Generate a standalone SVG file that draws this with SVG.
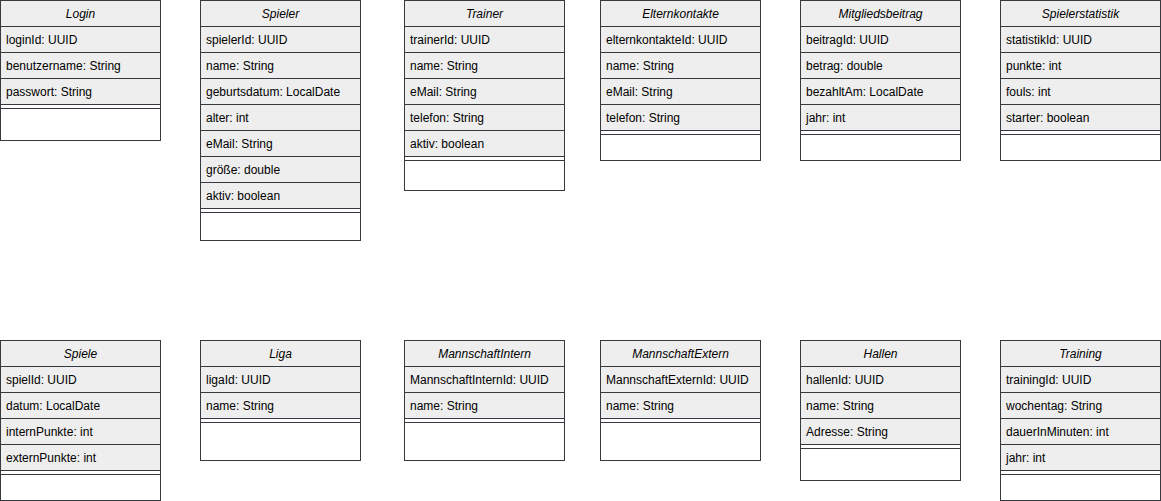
<svg xmlns="http://www.w3.org/2000/svg" width="1161" height="501" viewBox="0 0 1161 501">
<style>
.bg{fill:#ffffff;stroke:none}
.box{fill:none;stroke:#36393d;stroke-width:1}
.hd{fill:#eeeeee;stroke:#36393d;stroke-width:1}
.ln{stroke:#36393d;stroke-width:1;fill:none}
.t{font-family:"Liberation Sans",Arial,sans-serif;font-size:12px;fill:#000000}
.h{font-family:"Liberation Sans",Arial,sans-serif;font-size:12px;font-style:italic;fill:#000000;text-anchor:middle}
</style>
<rect width="1161" height="501" fill="#ffffff"/>

<g id="Login">
<rect class="bg" x="0.5" y="0.5" width="160" height="140"/>
<rect class="hd" x="0.5" y="0.5" width="160" height="104"/>
<line class="ln" x1="0.5" y1="26.5" x2="160.5" y2="26.5"/>
<line class="ln" x1="0.5" y1="52.5" x2="160.5" y2="52.5"/>
<line class="ln" x1="0.5" y1="78.5" x2="160.5" y2="78.5"/>
<line class="ln" x1="0.5" y1="108.5" x2="160.5" y2="108.5"/>
<rect class="box" x="0.5" y="0.5" width="160" height="140"/>
<text class="h" x="80.5" y="18">Login</text>
<text class="t" x="6" y="44">loginId: UUID</text>
<text class="t" x="6" y="70">benutzername: String</text>
<text class="t" x="6" y="96">passwort: String</text>
</g>

<g id="Spieler">
<rect class="bg" x="200.5" y="0.5" width="160" height="240"/>
<rect class="hd" x="200.5" y="0.5" width="160" height="208"/>
<line class="ln" x1="200.5" y1="26.5" x2="360.5" y2="26.5"/>
<line class="ln" x1="200.5" y1="52.5" x2="360.5" y2="52.5"/>
<line class="ln" x1="200.5" y1="78.5" x2="360.5" y2="78.5"/>
<line class="ln" x1="200.5" y1="104.5" x2="360.5" y2="104.5"/>
<line class="ln" x1="200.5" y1="130.5" x2="360.5" y2="130.5"/>
<line class="ln" x1="200.5" y1="156.5" x2="360.5" y2="156.5"/>
<line class="ln" x1="200.5" y1="182.5" x2="360.5" y2="182.5"/>
<line class="ln" x1="200.5" y1="212.5" x2="360.5" y2="212.5"/>
<rect class="box" x="200.5" y="0.5" width="160" height="240"/>
<text class="h" x="280.5" y="18">Spieler</text>
<text class="t" x="206" y="44">spielerId: UUID</text>
<text class="t" x="206" y="70">name: String</text>
<text class="t" x="206" y="96">geburtsdatum: LocalDate</text>
<text class="t" x="206" y="122">alter: int</text>
<text class="t" x="206" y="148">eMail: String</text>
<text class="t" x="206" y="174">größe: double</text>
<text class="t" x="206" y="200">aktiv: boolean</text>
</g>

<g id="Trainer">
<rect class="bg" x="404.5" y="0.5" width="160" height="190"/>
<rect class="hd" x="404.5" y="0.5" width="160" height="156"/>
<line class="ln" x1="404.5" y1="26.5" x2="564.5" y2="26.5"/>
<line class="ln" x1="404.5" y1="52.5" x2="564.5" y2="52.5"/>
<line class="ln" x1="404.5" y1="78.5" x2="564.5" y2="78.5"/>
<line class="ln" x1="404.5" y1="104.5" x2="564.5" y2="104.5"/>
<line class="ln" x1="404.5" y1="130.5" x2="564.5" y2="130.5"/>
<line class="ln" x1="404.5" y1="160.5" x2="564.5" y2="160.5"/>
<rect class="box" x="404.5" y="0.5" width="160" height="190"/>
<text class="h" x="484.5" y="18">Trainer</text>
<text class="t" x="410" y="44">trainerId: UUID</text>
<text class="t" x="410" y="70">name: String</text>
<text class="t" x="410" y="96">eMail: String</text>
<text class="t" x="410" y="122">telefon: String</text>
<text class="t" x="410" y="148">aktiv: boolean</text>
</g>

<g id="Elternkontakte">
<rect class="bg" x="600.5" y="0.5" width="160" height="160"/>
<rect class="hd" x="600.5" y="0.5" width="160" height="130"/>
<line class="ln" x1="600.5" y1="26.5" x2="760.5" y2="26.5"/>
<line class="ln" x1="600.5" y1="52.5" x2="760.5" y2="52.5"/>
<line class="ln" x1="600.5" y1="78.5" x2="760.5" y2="78.5"/>
<line class="ln" x1="600.5" y1="104.5" x2="760.5" y2="104.5"/>
<line class="ln" x1="600.5" y1="134.5" x2="760.5" y2="134.5"/>
<rect class="box" x="600.5" y="0.5" width="160" height="160"/>
<text class="h" x="680.5" y="18">Elternkontakte</text>
<text class="t" x="606" y="44">elternkontakteId: UUID</text>
<text class="t" x="606" y="70">name: String</text>
<text class="t" x="606" y="96">eMail: String</text>
<text class="t" x="606" y="122">telefon: String</text>
</g>

<g id="Mitgliedsbeitrag">
<rect class="bg" x="800.5" y="0.5" width="160" height="160"/>
<rect class="hd" x="800.5" y="0.5" width="160" height="130"/>
<line class="ln" x1="800.5" y1="26.5" x2="960.5" y2="26.5"/>
<line class="ln" x1="800.5" y1="52.5" x2="960.5" y2="52.5"/>
<line class="ln" x1="800.5" y1="78.5" x2="960.5" y2="78.5"/>
<line class="ln" x1="800.5" y1="104.5" x2="960.5" y2="104.5"/>
<line class="ln" x1="800.5" y1="134.5" x2="960.5" y2="134.5"/>
<rect class="box" x="800.5" y="0.5" width="160" height="160"/>
<text class="h" x="880.5" y="18">Mitgliedsbeitrag</text>
<text class="t" x="806" y="44">beitragId: UUID</text>
<text class="t" x="806" y="70">betrag: double</text>
<text class="t" x="806" y="96">bezahltAm: LocalDate</text>
<text class="t" x="806" y="122">jahr: int</text>
</g>

<g id="Spielerstatistik">
<rect class="bg" x="1000.5" y="0.5" width="160" height="160"/>
<rect class="hd" x="1000.5" y="0.5" width="160" height="130"/>
<line class="ln" x1="1000.5" y1="26.5" x2="1160.5" y2="26.5"/>
<line class="ln" x1="1000.5" y1="52.5" x2="1160.5" y2="52.5"/>
<line class="ln" x1="1000.5" y1="78.5" x2="1160.5" y2="78.5"/>
<line class="ln" x1="1000.5" y1="104.5" x2="1160.5" y2="104.5"/>
<line class="ln" x1="1000.5" y1="134.5" x2="1160.5" y2="134.5"/>
<rect class="box" x="1000.5" y="0.5" width="160" height="160"/>
<text class="h" x="1080.5" y="18">Spielerstatistik</text>
<text class="t" x="1006" y="44">statistikId: UUID</text>
<text class="t" x="1006" y="70">punkte: int</text>
<text class="t" x="1006" y="96">fouls: int</text>
<text class="t" x="1006" y="122">starter: boolean</text>
</g>

<g id="Spiele">
<rect class="bg" x="0.5" y="340.5" width="160" height="160"/>
<rect class="hd" x="0.5" y="340.5" width="160" height="130"/>
<line class="ln" x1="0.5" y1="366.5" x2="160.5" y2="366.5"/>
<line class="ln" x1="0.5" y1="392.5" x2="160.5" y2="392.5"/>
<line class="ln" x1="0.5" y1="418.5" x2="160.5" y2="418.5"/>
<line class="ln" x1="0.5" y1="444.5" x2="160.5" y2="444.5"/>
<line class="ln" x1="0.5" y1="474.5" x2="160.5" y2="474.5"/>
<rect class="box" x="0.5" y="340.5" width="160" height="160"/>
<text class="h" x="80.5" y="358">Spiele</text>
<text class="t" x="6" y="384">spielId: UUID</text>
<text class="t" x="6" y="410">datum: LocalDate</text>
<text class="t" x="6" y="436">internPunkte: int</text>
<text class="t" x="6" y="462">externPunkte: int</text>
</g>

<g id="Liga">
<rect class="bg" x="200.5" y="340.5" width="160" height="120"/>
<rect class="hd" x="200.5" y="340.5" width="160" height="78"/>
<line class="ln" x1="200.5" y1="366.5" x2="360.5" y2="366.5"/>
<line class="ln" x1="200.5" y1="392.5" x2="360.5" y2="392.5"/>
<line class="ln" x1="200.5" y1="422.5" x2="360.5" y2="422.5"/>
<rect class="box" x="200.5" y="340.5" width="160" height="120"/>
<text class="h" x="280.5" y="358">Liga</text>
<text class="t" x="206" y="384">ligaId: UUID</text>
<text class="t" x="206" y="410">name: String</text>
</g>

<g id="MannschaftIntern">
<rect class="bg" x="404.5" y="340.5" width="160" height="120"/>
<rect class="hd" x="404.5" y="340.5" width="160" height="78"/>
<line class="ln" x1="404.5" y1="366.5" x2="564.5" y2="366.5"/>
<line class="ln" x1="404.5" y1="392.5" x2="564.5" y2="392.5"/>
<line class="ln" x1="404.5" y1="422.5" x2="564.5" y2="422.5"/>
<rect class="box" x="404.5" y="340.5" width="160" height="120"/>
<text class="h" x="484.5" y="358">MannschaftIntern</text>
<text class="t" x="410" y="384">MannschaftInternId: UUID</text>
<text class="t" x="410" y="410">name: String</text>
</g>

<g id="MannschaftExtern">
<rect class="bg" x="600.5" y="340.5" width="160" height="120"/>
<rect class="hd" x="600.5" y="340.5" width="160" height="78"/>
<line class="ln" x1="600.5" y1="366.5" x2="760.5" y2="366.5"/>
<line class="ln" x1="600.5" y1="392.5" x2="760.5" y2="392.5"/>
<line class="ln" x1="600.5" y1="422.5" x2="760.5" y2="422.5"/>
<rect class="box" x="600.5" y="340.5" width="160" height="120"/>
<text class="h" x="680.5" y="358">MannschaftExtern</text>
<text class="t" x="606" y="384">MannschaftExternId: UUID</text>
<text class="t" x="606" y="410">name: String</text>
</g>

<g id="Hallen">
<rect class="bg" x="800.5" y="340.5" width="160" height="140"/>
<rect class="hd" x="800.5" y="340.5" width="160" height="104"/>
<line class="ln" x1="800.5" y1="366.5" x2="960.5" y2="366.5"/>
<line class="ln" x1="800.5" y1="392.5" x2="960.5" y2="392.5"/>
<line class="ln" x1="800.5" y1="418.5" x2="960.5" y2="418.5"/>
<line class="ln" x1="800.5" y1="448.5" x2="960.5" y2="448.5"/>
<rect class="box" x="800.5" y="340.5" width="160" height="140"/>
<text class="h" x="880.5" y="358">Hallen</text>
<text class="t" x="806" y="384">hallenId: UUID</text>
<text class="t" x="806" y="410">name: String</text>
<text class="t" x="806" y="436">Adresse: String</text>
</g>

<g id="Training">
<rect class="bg" x="1000.5" y="340.5" width="160" height="160"/>
<rect class="hd" x="1000.5" y="340.5" width="160" height="130"/>
<line class="ln" x1="1000.5" y1="366.5" x2="1160.5" y2="366.5"/>
<line class="ln" x1="1000.5" y1="392.5" x2="1160.5" y2="392.5"/>
<line class="ln" x1="1000.5" y1="418.5" x2="1160.5" y2="418.5"/>
<line class="ln" x1="1000.5" y1="444.5" x2="1160.5" y2="444.5"/>
<line class="ln" x1="1000.5" y1="474.5" x2="1160.5" y2="474.5"/>
<rect class="box" x="1000.5" y="340.5" width="160" height="160"/>
<text class="h" x="1080.5" y="358">Training</text>
<text class="t" x="1006" y="384">trainingId: UUID</text>
<text class="t" x="1006" y="410">wochentag: String</text>
<text class="t" x="1006" y="436">dauerInMinuten: int</text>
<text class="t" x="1006" y="462">jahr: int</text>
</g>

<g id="connectors"></g>
</svg>
